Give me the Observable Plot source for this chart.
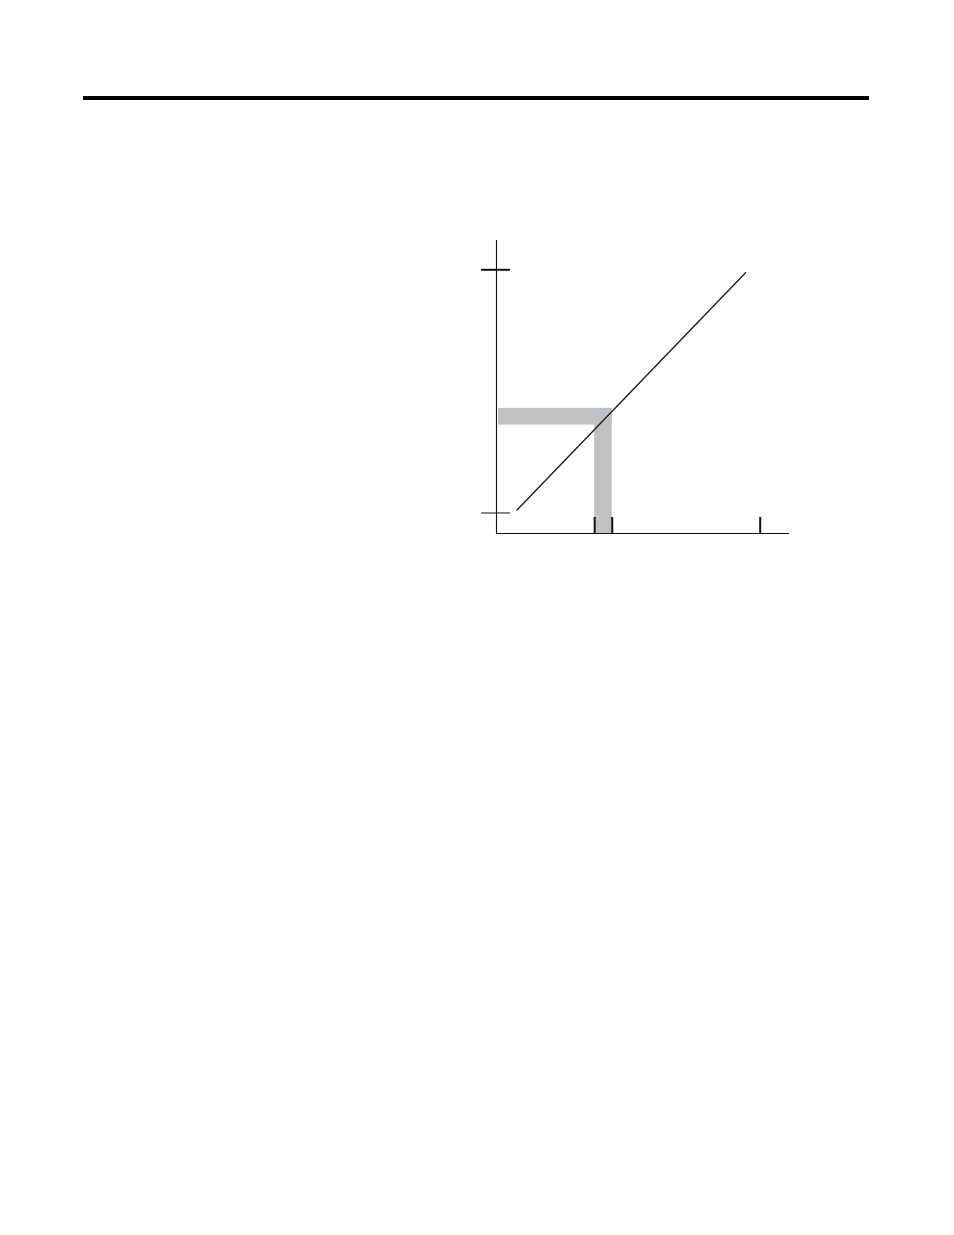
<!DOCTYPE html>
<html>
<head>
<meta charset="utf-8">
<script src="https://cdn.jsdelivr.net/npm/d3@7"></script>
<script src="https://cdn.jsdelivr.net/npm/@observablehq/plot@0.6"></script>
<style>
  html, body { margin: 0; padding: 0; background: #fff; }
  body { position: relative; width: 954px; height: 1235px; overflow: hidden; font-family: "Liberation Serif", serif; }
  #rule { position: absolute; left: 83px; top: 96px; width: 786px; height: 4px; background: #000; }
  #chart { position: absolute; left: 0; top: 0; }
</style>
</head>
<body>
<div id="rule"></div>
<div id="chart"></div>
<script>
// Abstract units (no labels in the reference)
const xDomain = [0, 100];
const yDomain = [0, 100];
const xTicks = [33.5, 39.5, 90];
const yTickLow = [7];
const yTickHigh = [90];
const lineX = [7, 85];
const lineY = [8, 89];
// highlighted bands: [x1, x2, y1, y2]
const bandX1 = [0.7, 33.5];
const bandX2 = [39.5, 39.5];
const bandY1 = [37, 0];
const bandY2 = [42.7, 42.7];

const linePts = lineX.map((x, i) => ({x, y: lineY[i]}));
const bands = bandX1.map((x1, i) => ({x1, x2: bandX2[i], y1: bandY1[i], y2: bandY2[i]}));

const chart = Plot.plot({
  width: 954,
  height: 1235,
  marginLeft: 496,
  marginRight: 165,
  marginTop: 240,
  marginBottom: 702,
  style: {background: "transparent", overflow: "visible"},
  x: {domain: xDomain, axis: null},
  y: {domain: yDomain, axis: null},
  marks: [
    Plot.rect(bands, {x1: "x1", x2: "x2", y1: "y1", y2: "y2", fill: "#bfc1c3"}),
    Plot.ruleX([xDomain[0]], {y1: yDomain[0], y2: yDomain[1], stroke: "#111", strokeWidth: 1.1}),
    Plot.ruleY([yDomain[0]], {x1: xDomain[0], x2: xDomain[1], stroke: "#111", strokeWidth: 1.1}),
    Plot.ruleY(yTickHigh, {x1: xDomain[0], x2: xDomain[0], insetLeft: -15, insetRight: -14, stroke: "#111", strokeWidth: 2}),
    Plot.ruleY(yTickLow, {x1: xDomain[0], x2: xDomain[0], insetLeft: -15, insetRight: -14, stroke: "#111", strokeWidth: 1}),
    Plot.ruleX(xTicks, {y1: yDomain[0], y2: yDomain[0], insetTop: -16, stroke: "#111", strokeWidth: 2}),
    Plot.line(linePts, {x: "x", y: "y", stroke: "#1a1a1a", strokeWidth: 1.3})
  ]
});
document.getElementById("chart").appendChild(chart);
</script>
</body>
</html>
